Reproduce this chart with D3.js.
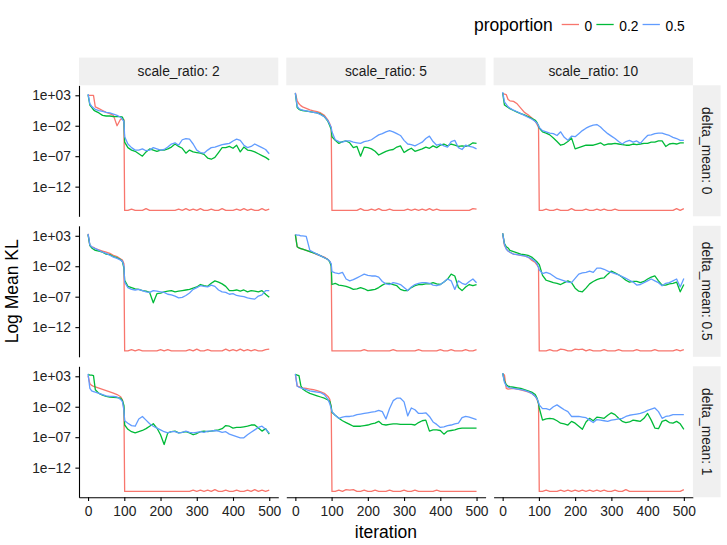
<!DOCTYPE html>
<html lang="en">
<head>
<meta charset="UTF-8">
<title>Log Mean KL by iteration</title>
<script src="https://d3js.org/d3.v7.min.js"></script>
<style>
  body { margin: 0; background: #fff; }
  svg { font-family: "Liberation Sans", Arial, Helvetica, sans-serif; }
  .strip rect { fill: #F0F0F0; }
  .strip text { font-size: 13.8px; fill: #1a1a1a; }
  .axis path, .axis line { stroke: #000; stroke-width: 1.1; }
  .axis text { font-size: 13.8px; fill: #222; }
  .title { font-size: 17.5px; fill: #000; }
  .legend text { fill: #000; }
</style>
</head>
<body>
<svg width="727" height="545"></svg>
<script>
// iterations shared by every series
const iters = [0, 5, 10, 15, 20, 30, 40, 50, 60, 70, 80, 90, 95, 99, 101,
  110, 120, 130, 140, 150, 160, 170, 180, 190, 200, 210, 220, 230, 240, 250, 260, 270, 280, 290, 300,
  310, 320, 330, 340, 350, 360, 370, 380, 390, 400, 410, 420, 430, 440, 450, 460, 470, 480, 490, 500];

const scaleRatios = [2, 5, 10];
const deltaMeans = [0, 0.5, 1];
const proportions = ["0", "0.2", "0.5"];
const colors = ["#F8766D", "#00BA38", "#619CFF"];

const yTickValues = [1e3, 1e-2, 1e-7, 1e-12];
const yTickLabels = ["1e+03", "1e\u221202", "1e\u221207", "1e\u221212"];
const xTickValues = [0, 100, 200, 300, 400, 500];

// log10(mean KL)
// scale_ratio 2, delta_mean 0
const s2_m0_p0 = [3.0, 3.0, 3.0, 3.0, 1.1, 0.8, 0.5, 0.2, 0.0, -0.3, -2.0, -0.9, -0.9, -1.0, -15.9,
  -15.9, -15.7, -15.9, -15.9, -15.9, -15.6, -15.9, -15.9, -15.9, -15.9,
  -15.9, -15.9, -15.9, -15.9, -15.7, -15.9, -15.6, -15.9, -15.7, -15.9,
  -15.6, -15.9, -15.9, -15.7, -15.9, -15.9, -15.6, -15.9, -15.9, -15.9,
  -15.7, -15.9, -15.6, -15.9, -15.7, -15.9, -15.9, -15.6, -15.9, -15.7];
const s2_m0_p02 = [3.1, 1.4, 1.0, 0.6, 0.4, 0.1, -0.3, -0.4, -0.4, -0.5, -0.5, -0.5, -0.6, -1.2, -4.7,
  -5.6, -6.0, -6.2, -6.6, -7.0, -6.3, -5.8, -6.0, -6.2, -6.0,
  -6.0, -5.8, -5.5, -5.0, -5.4, -5.7, -6.5, -6.0, -6.3, -6.4,
  -6.5, -6.7, -7.3, -7.5, -7.2, -6.4, -5.6, -5.6, -5.4, -5.7,
  -5.2, -6.3, -5.5, -6.0, -6.1, -6.3, -6.6, -6.9, -7.2, -7.6];
const s2_m0_p05 = [3.2, 1.6, 1.2, 0.9, 0.7, 0.5, 0.35, 0.2, 0.1, -0.1, -0.3, -0.6, -1.0, -1.3, -3.8,
  -5.0, -5.6, -6.0, -6.0, -5.8, -6.1, -6.0, -5.6, -5.8, -6.0,
  -5.9, -5.5, -5.0, -4.8, -5.2, -4.3, -4.1, -4.2, -5.0, -6.0,
  -6.4, -6.5, -6.0, -5.6, -5.5, -5.3, -5.1, -5.0, -4.9, -4.5,
  -4.2, -4.4, -5.2, -5.6, -5.4, -5.0, -5.3, -5.6, -5.9, -6.6];

// scale_ratio 5, delta_mean 0
const s5_m0_p0 = [3.4, 2.1, 1.6, 1.3, 1.1, 0.85, 0.6, 0.45, 0.3, 0.1, -0.3, -1.1, -1.7, -2.3, -15.9,
  -15.9, -15.9, -15.9, -15.9, -15.9, -15.9, -15.9, -15.6, -15.9, -15.9,
  -15.7, -15.9, -15.6, -15.9, -15.9, -15.7, -15.9, -15.9, -15.9, -15.9,
  -15.7, -15.9, -15.7, -15.9, -15.7, -15.9, -15.6, -15.9, -15.7, -15.9,
  -15.9, -15.9, -15.9, -15.9, -15.9, -15.9, -15.9, -15.9, -15.6, -15.7];
const s5_m0_p02 = [3.3, 1.0, 0.7, 0.55, 0.5, 0.4, 0.3, 0.2, 0.1, -0.1, -0.5, -1.3, -2.0, -2.6, -3.8,
  -4.4, -4.9, -4.6, -4.5, -4.8, -5.6, -5.4, -7.0, -5.5, -5.6,
  -5.8, -6.2, -6.8, -6.5, -6.2, -6.0, -5.9, -5.5, -5.3, -6.4,
  -6.0, -5.7, -6.2, -6.0, -5.8, -5.5, -5.7, -5.3, -5.6, -5.2,
  -5.0, -5.3, -5.0, -5.2, -5.4, -5.3, -5.4, -5.2, -4.8, -4.9];
const s5_m0_p05 = [3.4, 1.2, 0.8, 0.65, 0.55, 0.45, 0.3, 0.2, 0.1, -0.2, -0.5, -1.2, -1.8, -2.3, -3.0,
  -4.3, -4.6, -4.7, -4.5, -4.5, -4.7, -4.8, -4.9, -4.6, -4.5,
  -4.3, -3.9, -3.5, -3.3, -3.0, -2.8, -3.0, -3.3, -3.6, -4.4,
  -5.0, -5.1, -5.3, -5.0, -4.7, -4.1, -3.7, -4.6, -5.2, -5.0,
  -5.3, -5.5, -4.6, -4.4, -5.6, -5.9, -5.2, -5.4, -5.5, -5.8];

// scale_ratio 10, delta_mean 0
const s10_m0_p0 = [3.3, 3.2, 3.1, 2.3, 2.1, 2.0, 1.6, 0.9, 0.2, -0.2, -0.7, -1.3, -1.8, -2.3, -15.9,
  -15.9, -15.7, -15.9, -15.9, -15.7, -15.9, -15.9, -15.9, -15.6, -15.9,
  -15.9, -15.9, -15.7, -15.9, -15.9, -15.7, -15.9, -15.7, -15.9, -15.9,
  -15.7, -15.9, -15.9, -15.9, -15.9, -15.9, -15.9, -15.9, -15.9, -15.9,
  -15.9, -15.9, -15.9, -15.9, -15.9, -15.9, -15.9, -15.6, -15.9, -15.6];
const s10_m0_p02 = [3.4, 1.4, 1.2, 1.0, 0.8, 0.5, 0.25, 0.0, -0.2, -0.5, -0.8, -1.1, -1.5, -2.0, -2.4,
  -3.0, -3.2, -3.5, -4.0, -4.6, -5.2, -5.0, -4.6, -4.0, -5.8,
  -5.6, -5.4, -5.2, -5.2, -5.2, -5.0, -4.8, -5.2, -5.0, -5.0,
  -4.9, -5.0, -5.1, -5.2, -5.2, -5.0, -5.1, -5.0, -4.9, -4.9,
  -4.7, -4.7, -4.5, -4.5, -5.4, -5.0, -4.9, -5.0, -4.8, -4.8];
const s10_m0_p05 = [3.5, 1.9, 1.5, 1.1, 0.9, 0.55, 0.3, 0.0, -0.3, -0.6, -0.9, -1.3, -1.6, -2.0, -2.3,
  -2.8, -3.0, -3.2, -3.3, -3.6, -3.0, -3.9, -4.4, -3.7, -3.8,
  -3.3, -2.8, -2.4, -2.1, -1.9, -1.8, -2.2, -2.8, -3.3, -3.7,
  -4.1, -4.6, -5.0, -4.6, -4.4, -4.7, -4.5, -4.9, -4.2, -3.6,
  -3.5, -3.3, -3.2, -3.2, -3.4, -3.6, -3.9, -4.1, -4.4, -4.4];

// scale_ratio 2, delta_mean 0.5
const s2_m05_p0 = [3.3, 1.4, 1.2, 1.1, 0.9, 0.7, 0.5, 0.3, 0.1, -0.2, -0.4, -0.8, -1.0, -1.6, -15.9,
  -15.9, -15.7, -15.9, -15.7, -15.9, -15.9, -15.9, -15.9, -15.9, -15.7,
  -15.9, -15.7, -15.9, -15.9, -15.9, -15.9, -15.9, -15.7, -15.9, -15.6,
  -15.9, -15.9, -15.7, -15.9, -15.9, -15.9, -15.9, -15.6, -15.9, -15.7,
  -15.9, -15.6, -15.9, -15.7, -15.9, -15.7, -15.9, -15.9, -15.7, -15.6];
const s2_m05_p02 = [3.2, 1.4, 1.0, 0.8, 0.6, 0.5, 0.3, 0.0, -0.1, -0.4, -0.6, -0.9, -1.3, -2.3, -4.3,
  -5.3, -5.5, -5.7, -5.8, -6.0, -6.1, -6.3, -8.0, -6.5, -6.4,
  -6.2, -6.1, -6.0, -6.2, -6.1, -6.0, -5.9, -5.8, -5.6, -5.4,
  -5.0, -5.2, -5.3, -4.8, -4.4, -4.6, -4.9, -5.3, -6.0, -6.0,
  -5.9, -6.1, -5.9, -6.2, -6.0, -6.1, -6.2, -6.0, -6.6, -7.1];
const s2_m05_p05 = [3.3, 1.5, 1.2, 1.0, 0.9, 0.6, 0.3, 0.1, -0.2, -0.5, -0.7, -1.0, -1.2, -2.0, -4.6,
  -5.5, -5.8, -5.9, -5.8, -6.0, -6.2, -6.3, -6.0, -6.1, -6.2,
  -6.3, -6.6, -6.7, -6.9, -7.2, -7.1, -6.8, -6.4, -5.8, -5.5,
  -5.2, -5.3, -5.4, -5.1, -5.3, -5.9, -6.2, -6.3, -6.6, -6.5,
  -6.8, -6.9, -7.0, -7.2, -7.3, -7.4, -6.9, -6.7, -6.0, -6.0];

// scale_ratio 5, delta_mean 0.5
const s5_m05_p0 = [3.2, 1.2, 1.0, 0.9, 0.8, 0.6, 0.4, 0.2, -0.1, -0.3, -0.5, -0.9, -1.2, -1.8, -15.9,
  -15.9, -15.9, -15.9, -15.9, -15.9, -15.9, -15.9, -15.9, -15.7, -15.9,
  -15.9, -15.9, -15.9, -15.9, -15.9, -15.9, -15.7, -15.9, -15.9, -15.9,
  -15.9, -15.9, -15.9, -15.7, -15.9, -15.9, -15.9, -15.9, -15.9, -15.7,
  -15.9, -15.9, -15.7, -15.9, -15.9, -15.9, -15.7, -15.9, -15.9, -15.7];
const s5_m05_p02 = [3.2, 1.2, 1.0, 0.9, 0.8, 0.6, 0.4, 0.2, 0.0, -0.3, -0.6, -0.9, -1.3, -2.0, -5.0,
  -4.8, -5.1, -5.2, -5.3, -5.5, -5.8, -5.7, -5.5, -5.7, -6.0,
  -5.9, -5.8, -5.5, -5.1, -4.8, -4.8, -5.0, -5.2, -5.8, -6.0,
  -6.0, -5.5, -5.2, -5.0, -5.0, -4.9, -4.9, -4.7, -4.9, -5.0,
  -4.6, -4.1, -3.3, -3.6, -5.5, -6.0, -5.4, -5.0, -5.2, -5.0];
const s5_m05_p05 = [3.2, 3.1, 3.1, 3.0, 3.0, 2.9, 0.6, 0.3, 0.0, -0.3, -0.6, -0.9, -1.2, -1.6, -2.9,
  -3.1, -3.2, -3.0, -4.1, -4.4, -4.2, -3.9, -3.6, -3.3, -3.5,
  -3.6, -3.6, -3.8, -4.5, -4.9, -5.0, -4.7, -4.8, -5.0, -5.5,
  -6.0, -5.4, -5.0, -4.8, -4.7, -4.7, -4.8, -5.1, -5.2, -5.0,
  -4.6, -4.1, -4.4, -5.8, -4.4, -4.8, -5.0, -4.5, -4.1, -4.7];

// scale_ratio 10, delta_mean 0.5
const s10_m05_p0 = [3.4, 1.4, 0.9, 0.5, 0.3, 0.0, -0.1, -0.2, -0.3, -0.5, -1.0, -1.4, -1.8, -2.2, -15.9,
  -15.9, -15.9, -15.7, -15.9, -15.9, -15.6, -15.7, -15.9, -15.9, -15.6,
  -15.7, -15.6, -15.9, -15.7, -15.9, -15.9, -15.9, -15.7, -15.9, -15.9,
  -15.9, -15.7, -15.9, -15.9, -15.9, -15.9, -15.7, -15.9, -15.9, -15.9,
  -15.9, -15.7, -15.9, -15.9, -15.9, -15.9, -15.9, -15.7, -15.9, -15.7];
const s10_m05_p02 = [3.4, 1.7, 1.2, 1.0, 0.6, 0.4, 0.2, 0.0, -0.1, -0.2, -0.5, -1.0, -1.3, -1.6, -1.7,
  -3.5, -4.3, -4.5, -4.7, -4.8, -5.0, -4.7, -4.4, -4.7, -5.6,
  -6.1, -6.2, -5.6, -4.9, -4.5, -4.2, -4.0, -3.9, -3.3, -2.8,
  -3.1, -3.4, -3.8, -4.3, -4.6, -4.5, -4.5, -4.7, -4.5, -4.1,
  -3.8, -3.6, -4.4, -5.1, -5.1, -4.9, -4.8, -4.6, -6.2, -5.0];
const s10_m05_p05 = [3.4, 1.6, 0.8, 0.5, 0.3, 0.0, -0.1, -0.2, -0.3, -0.5, -0.8, -1.2, -1.6, -2.2, -2.6,
  -3.2, -3.0, -3.2, -3.6, -4.0, -4.2, -4.4, -4.6, -4.7, -4.0,
  -3.3, -3.1, -3.0, -2.8, -3.0, -2.3, -2.3, -2.5, -2.8, -3.0,
  -3.2, -3.4, -3.7, -4.0, -4.3, -4.6, -5.1, -5.0, -4.7, -4.4,
  -4.1, -4.4, -4.7, -5.2, -4.8, -4.7, -4.4, -4.1, -5.4, -4.0];

// scale_ratio 2, delta_mean 1
const s2_m1_p0 = [3.1, 1.8, 1.5, 1.35, 1.25, 1.05, 0.85, 0.65, 0.45, 0.25, 0.0, -0.35, -0.9, -2.3, -15.9,
  -15.9, -15.9, -15.9, -15.9, -15.9, -15.9, -15.9, -15.9, -15.9, -15.9,
  -15.9, -15.9, -15.9, -15.9, -15.9, -15.9, -15.9, -15.9, -15.7, -15.9,
  -15.7, -15.9, -15.7, -15.9, -15.6, -15.9, -15.9, -15.7, -15.9, -15.9,
  -15.7, -15.9, -15.9, -15.7, -15.9, -15.6, -15.9, -15.7, -15.9, -15.7];
const s2_m1_p02 = [3.3, 3.2, 3.2, 3.1, 0.8, 0.2, -0.1, -0.3, -0.4, -0.45, -0.5, -0.6, -1.0, -1.8, -5.0,
  -5.7, -6.1, -6.3, -6.1, -5.9, -5.6, -5.2, -4.8, -5.5, -6.6,
  -8.2, -6.3, -6.1, -6.0, -6.3, -6.2, -6.1, -6.3, -6.6, -6.4,
  -6.1, -6.0, -6.1, -6.0, -5.9, -5.8, -5.6, -5.1, -5.2, -5.5,
  -5.4, -5.4, -5.3, -5.2, -5.0, -5.0, -5.5, -6.0, -5.6, -6.5];
const s2_m1_p05 = [3.4, 1.0, 0.6, 0.5, 0.4, 0.2, 0.0, -0.2, -0.3, -0.3, -0.4, -0.8, -1.2, -2.6, -4.3,
  -4.7, -5.1, -5.2, -4.0, -3.6, -4.2, -4.8, -5.2, -5.5, -5.8,
  -6.1, -6.3, -6.1, -6.1, -6.3, -6.2, -6.0, -6.2, -6.3, -6.2,
  -6.1, -6.2, -6.0, -6.0, -5.9, -6.0, -6.2, -6.1, -6.5, -6.7,
  -6.9, -7.1, -7.1, -6.6, -6.2, -5.8, -5.4, -5.2, -5.7, -6.3];

// scale_ratio 5, delta_mean 1
const s5_m1_p0 = [3.3, 1.4, 1.3, 1.2, 1.1, 1.0, 0.9, 0.8, 0.65, 0.45, 0.2, -0.3, -0.8, -2.2, -15.9,
  -15.9, -15.7, -15.9, -15.6, -15.7, -15.6, -15.9, -15.9, -15.7, -15.9,
  -15.9, -15.7, -15.9, -15.9, -15.9, -15.7, -15.9, -15.9, -15.9, -15.7,
  -15.9, -15.9, -15.7, -15.9, -15.9, -15.9, -15.9, -15.9, -15.7, -15.9,
  -15.9, -15.9, -15.9, -15.9, -15.9, -15.9, -15.9, -15.9, -15.9, -15.9];
const s5_m1_p02 = [3.3, 3.2, 3.1, 1.5, 0.9, 0.5, 0.2, 0.0, -0.2, -0.4, -0.6, -0.9, -1.1, -2.0, -2.9,
  -3.4, -3.9, -4.3, -4.6, -4.9, -5.2, -5.2, -5.2, -5.1, -5.0,
  -4.8, -4.7, -4.4, -4.9, -5.0, -4.9, -4.8, -4.8, -4.9, -4.9,
  -4.9, -4.9, -5.0, -4.6, -4.3, -4.2, -6.0, -5.8, -5.8, -5.9,
  -6.5, -6.0, -5.9, -5.8, -5.6, -5.5, -5.5, -5.5, -5.5, -5.5];
const s5_m1_p05 = [3.4, 1.4, 1.2, 1.1, 1.0, 0.8, 0.6, 0.5, 0.4, 0.3, 0.0, -0.8, -1.5, -2.3, -2.8,
  -3.4, -3.9, -3.7, -3.6, -3.6, -3.5, -3.3, -3.2, -3.1, -3.0,
  -2.9, -2.8, -2.6, -2.8, -4.0, -2.3, -1.0, -0.6, -0.6, -1.2,
  -3.5, -2.2, -2.5, -3.1, -3.1, -3.0, -3.6, -4.5, -4.9, -5.4,
  -5.3, -5.1, -5.0, -4.8, -4.7, -3.8, -3.6, -3.7, -3.9, -4.1];

// scale_ratio 10, delta_mean 1
const s10_m1_p0 = [3.4, 3.2, 1.0, 0.9, 0.95, 1.0, 0.9, 0.75, 0.6, 0.45, 0.2, -0.3, -0.8, -1.5, -15.9,
  -15.9, -15.7, -15.9, -15.9, -15.9, -15.7, -15.9, -15.7, -15.9, -15.7,
  -15.9, -15.7, -15.9, -15.7, -15.9, -15.7, -15.9, -15.7, -15.9, -15.9,
  -15.7, -15.9, -15.9, -15.6, -15.9, -15.9, -15.9, -15.9, -15.9, -15.9,
  -15.9, -15.9, -15.9, -15.9, -15.9, -15.9, -15.9, -15.9, -15.9, -15.6];
const s10_m1_p02 = [3.5, 2.2, 1.6, 1.4, 1.3, 1.2, 1.1, 1.0, 0.8, 0.6, 0.4, 0.0, -0.6, -1.5, -2.2,
  -4.2, -4.0, -3.9, -4.0, -4.3, -4.7, -4.8, -5.0, -4.4, -4.7,
  -5.2, -5.7, -4.5, -3.9, -4.3, -3.7, -3.8, -3.9, -3.4, -3.0,
  -3.3, -3.9, -4.4, -4.6, -4.5, -4.2, -4.3, -4.4, -3.9, -3.1,
  -4.2, -5.5, -5.6, -4.4, -4.2, -4.6, -4.7, -4.4, -4.8, -5.7];
const s10_m1_p05 = [3.5, 2.0, 1.4, 1.2, 1.1, 1.0, 0.9, 0.8, 0.7, 0.5, 0.2, -0.3, -0.7, -1.3, -1.7,
  -2.3, -2.3, -2.5, -2.0, -1.7, -2.1, -2.5, -2.8, -3.6, -3.6,
  -3.6, -3.7, -3.8, -4.2, -4.6, -4.1, -4.2, -4.3, -4.4, -4.2,
  -4.1, -4.0, -3.9, -3.6, -3.4, -3.3, -3.2, -3.1, -2.9, -2.6,
  -2.4, -2.2, -2.8, -3.9, -3.6, -3.5, -3.3, -3.3, -3.3, -3.3];

// grid[row = delta_mean][col = scale_ratio] -> series per proportion
const grid = [
  [[s2_m0_p0, s2_m0_p02, s2_m0_p05], [s5_m0_p0, s5_m0_p02, s5_m0_p05], [s10_m0_p0, s10_m0_p02, s10_m0_p05]],
  [[s2_m05_p0, s2_m05_p02, s2_m05_p05], [s5_m05_p0, s5_m05_p02, s5_m05_p05], [s10_m05_p0, s10_m05_p02, s10_m05_p05]],
  [[s2_m1_p0, s2_m1_p02, s2_m1_p05], [s5_m1_p0, s5_m1_p02, s5_m1_p05], [s10_m1_p0, s10_m1_p02, s10_m1_p05]]
];

// layout
const plotLeft = 79, plotTop = 85.3;
const panelW = 199.3, panelH = 131;
const gapX = 8, gapY = 9.5;
const strip = 27.7;

const svg = d3.select("svg");

const x = d3.scaleLinear().domain([-25, 525]).range([0, panelW]);
const y = d3.scaleLog().domain([Math.pow(10, -16.87), Math.pow(10, 4.64)]).range([panelH, 0]);

const line = d3.line()
  .x((d, i) => x(iters[i]))
  .y(d => y(Math.pow(10, d)));

deltaMeans.forEach((dm, r) => {
  scaleRatios.forEach((sr, c) => {
    const g = svg.append("g")
      .attr("transform", `translate(${plotLeft + c * (panelW + gapX)},${plotTop + r * (panelH + gapY)})`);

    // series: 0 first, then 0.2, then 0.5 on top
    grid[r][c].forEach((vals, k) => {
      g.append("path")
        .datum(vals)
        .attr("fill", "none")
        .attr("stroke", colors[k])
        .attr("stroke-width", 1.3)
        .attr("stroke-linejoin", "round")
        .attr("d", line);
    });

    if (c === 0) {
      g.append("g")
        .attr("class", "axis")
        .call(d3.axisLeft(y)
          .tickValues(yTickValues)
          .tickFormat((d, i) => yTickLabels[i])
          .tickSize(3.6)
          .tickSizeOuter(0)
          .tickPadding(4.5));
    }
    if (r === deltaMeans.length - 1) {
      g.append("g")
        .attr("class", "axis")
        .attr("transform", `translate(0,${panelH})`)
        .call(d3.axisBottom(x)
          .tickValues(xTickValues)
          .tickSize(3.6)
          .tickSizeOuter(0)
          .tickPadding(5.5));
    }

    // top strips
    if (r === 0) {
      const s = g.append("g").attr("class", "strip")
        .attr("transform", `translate(0,${-strip})`);
      s.append("rect").attr("width", panelW).attr("height", strip);
      s.append("text")
        .attr("x", panelW / 2).attr("y", strip / 2)
        .attr("dy", "0.35em")
        .attr("text-anchor", "middle")
        .text(`scale_ratio: ${sr}`);
    }
    // right strips
    if (c === scaleRatios.length - 1) {
      const s = g.append("g").attr("class", "strip")
        .attr("transform", `translate(${panelW},0)`);
      s.append("rect").attr("width", strip).attr("height", panelH);
      s.append("text")
        .attr("transform", `translate(${strip / 2},${panelH / 2}) rotate(90)`)
        .attr("dy", "0.35em")
        .attr("text-anchor", "middle")
        .text(`delta_mean: ${dm}`);
    }
  });
});

// axis titles
const plotRight = plotLeft + 3 * panelW + 2 * gapX;
svg.append("text")
  .attr("class", "title")
  .attr("x", (plotLeft + plotRight) / 2)
  .attr("y", 537.5)
  .attr("text-anchor", "middle")
  .text("iteration");

svg.append("text")
  .attr("class", "title")
  .attr("transform", `translate(17.5,${plotTop + (3 * panelH + 2 * gapY) / 2}) rotate(-90)`)
  .attr("text-anchor", "middle")
  .text("Log Mean KL");

// legend
const legend = svg.append("g").attr("class", "legend");
legend.append("text")
  .attr("x", 474).attr("y", 30.5)
  .attr("font-size", "17.5px")
  .text("proportion");

let lx = 561.7;
proportions.forEach((p, k) => {
  legend.append("line")
    .attr("x1", lx).attr("x2", lx + 17.3)
    .attr("y1", 24.5).attr("y2", 24.5)
    .attr("stroke", colors[k])
    .attr("stroke-width", 1.3);
  const t = legend.append("text")
    .attr("x", lx + 17.3 + 5.6).attr("y", 30.6)
    .attr("font-size", "13.8px")
    .text(p);
  lx += 17.3 + 5.6 + t.node().getComputedTextLength() + 4.1;
});
</script>
</body>
</html>
